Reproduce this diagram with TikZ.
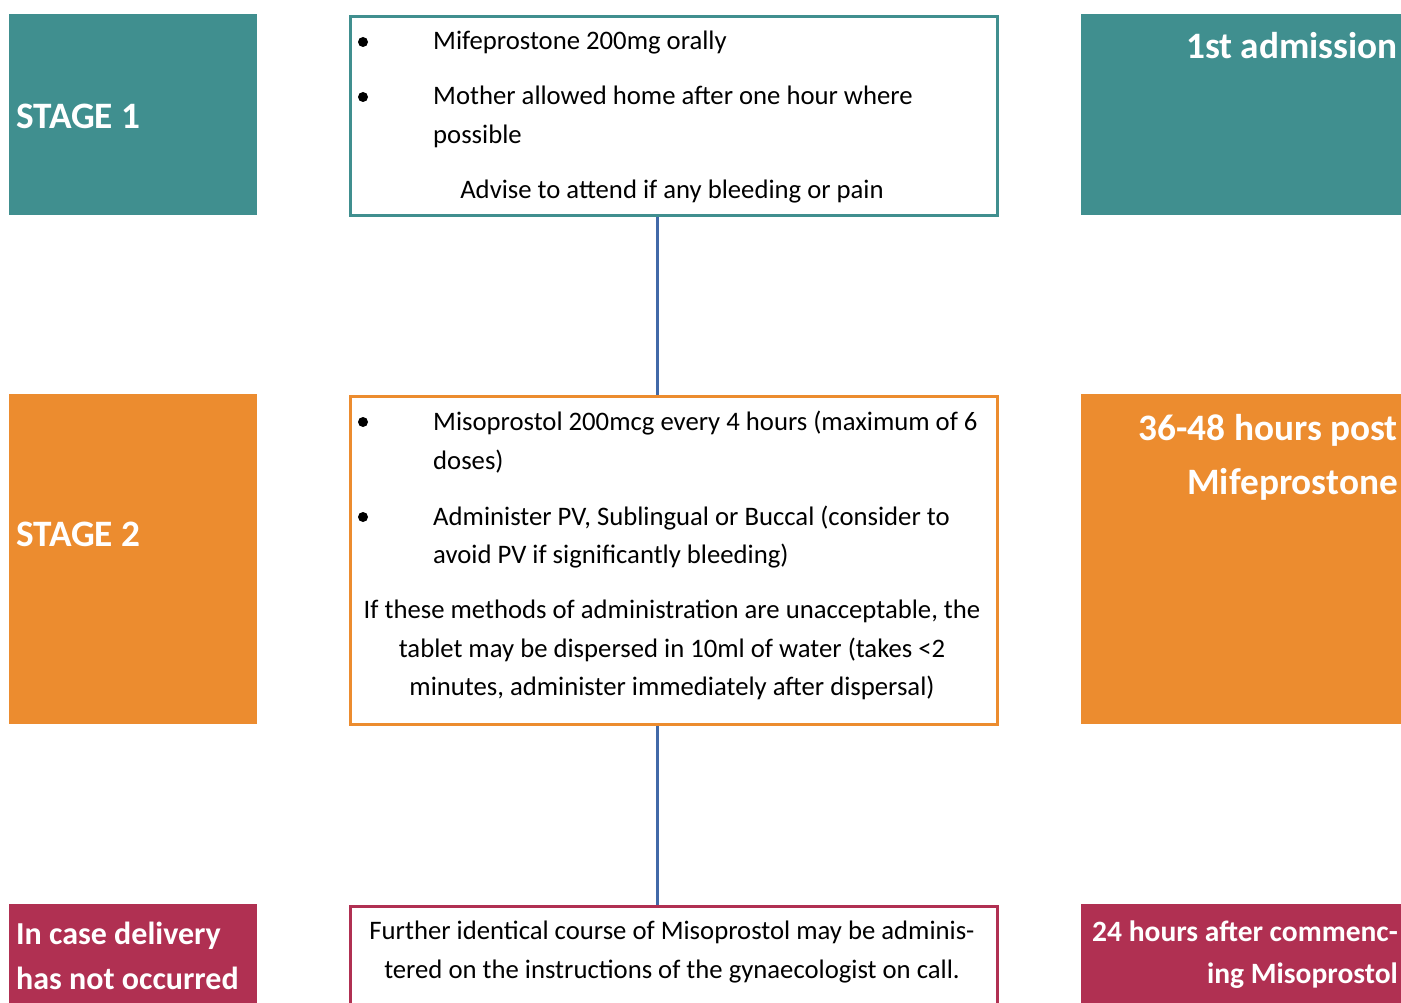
\documentclass[tikz,border=0pt]{standalone}
\usepackage{fontspec}
\setmainfont{Carlito}
\usetikzlibrary{positioning}

\definecolor{stageone}{HTML}{408F8F}
\definecolor{stagetwo}{HTML}{EC8C2F}
\definecolor{stagethree}{HTML}{B03052}
\definecolor{linkblue}{HTML}{4169A8}

\newcommand{\bodyfont}{\fontsize{26.7}{39}\selectfont}
\newcommand{\headfont}{\fontsize{37.3}{50}\selectfont\bfseries}
\newcommand{\leftnotefont}{\fontsize{32}{45}\selectfont\bfseries}
\newcommand{\rightnotefont}{\fontsize{29.5}{42}\selectfont\bfseries}

\tikzset{
  tagbox/.style={fill=#1, draw=none, inner sep=0, anchor=north west},
  stepbox/.style={draw=#1, line width=3pt, fill=white, inner sep=0, anchor=north west},
  bodytxt/.style={anchor=base west, inner sep=0, font=\bodyfont},
  midtxt/.style={anchor=base, inner sep=0, font=\bodyfont},
  headtxt/.style={anchor=base west, inner sep=0, text=white, font=\headfont},
  sidetxt/.style={anchor=base east, inner sep=0, text=white, font=\headfont},
  link/.style={draw=linkblue, line width=3pt}
}

\begin{document}
\begin{tikzpicture}[x=1pt,y=-1pt]

  \clip (0,0) rectangle (1401,1003);

  % stage 1
  \node[tagbox=stageone, minimum width=248, minimum height=201] (s1) at (9,14) {};
  \node[stepbox=stageone, minimum width=647, minimum height=199] (m1) at (349,15) {};
  \node[tagbox=stageone, minimum width=330, minimum height=201] (r1) at (1081,14) {};

  % stage 2
  \node[tagbox=stagetwo, minimum width=248, minimum height=330] (s2) at (9,394) {};
  \node[stepbox=stagetwo, minimum width=647, minimum height=328] (m2) at (349,395) {};
  \node[tagbox=stagetwo, minimum width=330, minimum height=330] (r2) at (1081,394) {};

  % stage 3 (runs off the page)
  \node[tagbox=stagethree, minimum width=248, minimum height=140] (s3) at (9,904) {};
  \node[stepbox=stagethree, minimum width=647, minimum height=140] (m3) at (349,905) {};
  \node[tagbox=stagethree, minimum width=330, minimum height=140] (r3) at (1081,904) {};

  % connectors
  \draw[link] ([xshift=-17]m1.south) -- ([xshift=-17]m2.north);
  \draw[link] ([xshift=-17]m2.south) -- ([xshift=-17]m3.north);

  % side labels
  \node[headtxt] (s1t) at (16,129) {STAGE 1};
  \node[headtxt] (s2t) at (16,546) {STAGE 2};
  \node[headtxt, font=\leftnotefont] (s3t) at (16,944) {In case delivery};
  \node[headtxt, font=\leftnotefont] (s3u) at (16,989) {has not occurred};

  \node[sidetxt] (r1t) at (1398,59) {1st admission};
  \node[sidetxt] (r2t) at (1398,440) {36-48 hours post};
  \node[sidetxt] (r2u) at (1398,494) {Mifeprostone};
  \node[sidetxt, font=\rightnotefont] (r3t) at (1398,941) {24 hours after commenc-};
  \node[sidetxt, font=\rightnotefont] (r3u) at (1398,983) {ing Misoprostol};

  % bullets
  \foreach \y in {42,97,422,517}{
    \fill (363,\y) circle (5);
  }

  % stage 1 text
  \node[bodytxt] (m1a) at (433,50) {Mifeprostone 200mg orally};
  \node[bodytxt] (m1b) at (433,105) {Mother allowed home after one hour where};
  \node[bodytxt] (m1c) at (433,144) {possible};
  \node[midtxt] (m1d) at (672,199) {Advise to attend if any bleeding or pain};

  % stage 2 text
  \node[bodytxt] (m2a) at (433,430) {Misoprostol 200mcg every 4 hours (maximum of 6};
  \node[bodytxt] (m2b) at (433,469) {doses)};
  \node[bodytxt] (m2c) at (433,525) {Administer PV, Sublingual or Buccal (consider to};
  \node[bodytxt] (m2d) at (433,563) {avoid PV if significantly bleeding)};
  \node[midtxt] (m2e) at (672,618) {If these methods of administration are unacceptable, the};
  \node[midtxt] (m2f) at (672,657) {tablet may be dispersed in 10ml of water (takes <2};
  \node[midtxt] (m2g) at (672,695) {minutes, administer immediately after dispersal)};

  % stage 3 text
  \node[midtxt] (m3a) at (672,939) {Further identical course of Misoprostol may be adminis-};
  \node[midtxt] (m3b) at (672,978) {tered on the instructions of the gynaecologist on call.};

\end{tikzpicture}
\end{document}
